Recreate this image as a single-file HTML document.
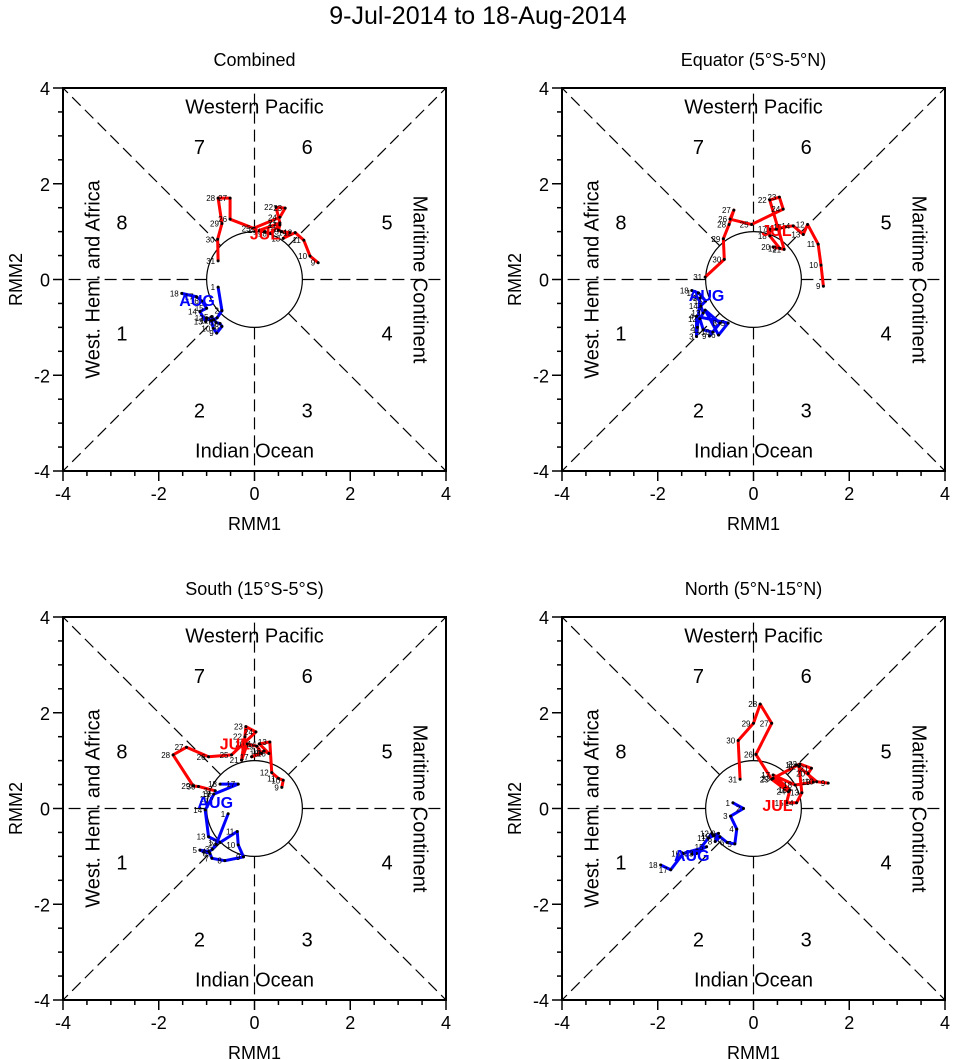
<!DOCTYPE html>
<html><head><meta charset="utf-8"><style>
body{margin:0;background:#fff;width:956px;height:1060px;overflow:hidden}
svg{display:block;font-family:"Liberation Sans",sans-serif}
</style></head><body>
<svg id="c" width="956" height="1060" xmlns="http://www.w3.org/2000/svg">
<text x="478" y="24" text-anchor="middle" font-size="25">9-Jul-2014 to 18-Aug-2014</text>
</svg>
<script>
const julDays=[9,10,11,12,13,14,15,16,17,18,19,20,21,22,23,24,25,26,27,28,29,30,31];
const augDays=[1,2,3,4,5,6,7,8,9,10,11,12,13,14,15,16,17,18];
const tickVals=[-4,-2,0,2,4];
const panelTitles=["Combined","Equator (5°S-5°N)","South (15°S-5°S)","North (5°N-15°N)"];
const p1JulX=[1.33,1.16,1.03,0.85,0.60,0.74,0.57,0.50,0.53,0.32,0.22,0.11,0.53,0.45,0.64,0.53,-0.02,-0.51,-0.51,-0.76,-0.68,-0.77,-0.76];
const p1JulY=[0.35,0.49,0.82,0.98,0.86,0.98,1.00,1.03,1.14,0.96,1.00,1.03,1.18,1.51,1.49,1.30,1.07,1.26,1.70,1.70,1.17,0.84,0.39];
const p1AugX=[-0.76,-0.68,-0.78,-0.85,-0.90,-0.80,-0.72,-0.68,-0.79,-0.86,-0.90,-1.00,-1.02,-1.14,-1.00,-1.10,-1.21,-1.52];
const p1AugY=[-0.16,-0.65,-0.80,-0.84,-0.78,-0.90,-0.92,-0.98,-1.12,-1.02,-0.86,-0.80,-0.88,-0.67,-0.60,-0.45,-0.36,-0.29];
const p2JulX=[1.46,1.41,1.35,1.13,1.04,0.83,0.66,0.48,0.34,0.34,0.55,0.41,0.64,0.34,0.54,0.62,-0.04,-0.49,-0.41,-0.51,-0.63,-0.61,-1.01];
const p2JulY=[-0.14,0.30,0.74,1.15,0.94,1.12,1.10,1.05,1.05,0.91,0.65,0.68,0.63,1.66,1.72,1.47,1.15,1.26,1.45,1.15,0.85,0.42,0.05];
const p2AugX=[-1.12,-1.17,-1.19,-1.19,-0.53,-0.73,-1.01,-0.70,-0.92,-0.85,-1.05,-1.12,-1.05,-1.10,-1.00,-1.08,-1.15,-1.29];
const p2AugY=[-0.39,-1.00,-1.19,-0.77,-0.91,-1.16,-0.64,-0.91,-1.18,-1.10,-1.05,-0.82,-0.70,-0.55,-0.45,-0.35,-0.28,-0.23];
const p3JulX=[0.57,0.60,0.50,0.36,0.32,0.10,0.30,0.20,-0.06,0.15,0.05,-0.15,-0.27,-0.20,-0.18,0.03,-0.48,-0.96,-1.42,-1.70,-1.28,-1.17,-0.82];
const p3JulY=[0.44,0.59,0.63,0.75,1.39,1.35,1.15,1.20,1.08,1.15,1.30,1.35,1.01,1.50,1.71,1.60,1.12,1.08,1.28,1.12,0.47,0.46,0.37];
const p3AugX=[-0.55,-0.80,-0.88,-0.95,-1.14,-0.93,-0.89,-0.62,-0.23,-0.34,-0.36,-0.72,-0.96,-1.03,-0.90,-0.85,-0.34,-0.72];
const p3AugY=[-0.11,-0.75,-0.85,-0.90,-0.87,-0.94,-1.04,-1.09,-1.01,-0.76,-0.48,-0.71,-0.59,-0.03,0.20,0.30,0.51,0.51];
const p4JulX=[1.56,1.32,0.90,0.95,1.01,0.90,0.69,0.76,0.41,0.87,1.25,1.14,1.21,0.97,0.41,0.73,0.38,0.05,0.38,0.14,0.00,-0.32,-0.28];
const p4JulY=[0.53,0.56,0.91,0.88,0.33,0.12,0.12,0.39,0.70,0.49,0.55,0.73,0.84,0.93,0.63,0.35,0.61,1.13,1.78,2.18,1.78,1.42,0.61];
const p4AugX=[-0.43,-0.21,-0.48,-0.35,-0.39,-0.55,-0.70,-0.80,-0.73,-0.84,-0.94,-0.87,-1.19,-1.29,-0.98,-1.47,-1.73,-1.94];
const p4AugY=[0.12,0.00,-0.16,-0.43,-0.74,-0.71,-0.59,-0.69,-0.52,-0.57,-0.62,-0.52,-0.94,-0.95,-0.80,-0.94,-1.28,-1.18];
const julLabelXY=[[0.22,0.96],[0.48,1.03],[-0.41,1.36],[0.5,0.07]];
const augLabelXY=[[-1.2,-0.43],[-0.98,-0.32],[-0.82,0.14],[-1.29,-0.97]];

const NS="http://www.w3.org/2000/svg";
const svg=document.getElementById('c');
function mk(tag,attrs,parent,txt){const e=document.createElementNS(NS,tag);for(const k in attrs)e.setAttribute(k,attrs[k]);if(txt!==undefined)e.textContent=txt;(parent||svg).appendChild(e);return e;}
const panels=[
 {l:63,t:88,jx:p1JulX,jy:p1JulY,ax:p1AugX,ay:p1AugY},
 {l:562,t:88,jx:p2JulX,jy:p2JulY,ax:p2AugX,ay:p2AugY},
 {l:63,t:617,jx:p3JulX,jy:p3JulY,ax:p3AugX,ay:p3AugY},
 {l:562,t:617,jx:p4JulX,jy:p4JulY,ax:p4AugX,ay:p4AugY}];
const W=383;
panels.forEach((p,i)=>{
 const sx=v=>p.l+(v+4)/8*W, sy=v=>p.t+(4-v)/8*W;
 const g=mk('g',{});
 
 
 const ttl=mk('text',{x:p.l+W/2,y:p.t-22,'text-anchor':'middle','font-size':18},g,panelTitles[i]);
 
 
 const cx=sx(0),cy=sy(0),r=W/8;
 const dirs=[[1,0],[-1,0],[0,1],[0,-1],[1,1],[1,-1],[-1,1],[-1,-1]];
 dirs.forEach(d=>{const n=Math.hypot(d[0],d[1]);
  const ln=mk('line',{x1:cx+d[0]/n*r,y1:cy-d[1]/n*r,x2:sx(4*d[0]),y2:sy(4*d[1]),stroke:'#000','stroke-width':1.2,'stroke-dasharray':'12,6'},g);
  
  });
 const cir=mk('circle',{cx:cx,cy:cy,r:r,fill:'none',stroke:'#000','stroke-width':1.2},g);
 
 
 const box=mk('rect',{x:p.l,y:p.t,width:W,height:W,fill:'none',stroke:'#000','stroke-width':2},g);
 
 
 for(let v=-4;v<=4.001;v+=0.5){const maj=Math.abs(v%2)<0.01;const L=maj?10:5;
  const t1=mk('line',{x1:sx(v),y1:p.t+W,x2:sx(v),y2:p.t+W+L,stroke:'#000','stroke-width':1.5},g);
  
  
  const t2=mk('line',{x1:p.l,y1:sy(v),x2:p.l-L,y2:sy(v),stroke:'#000','stroke-width':1.5},g);
  
  }
 tickVals.forEach(v=>{
  const a=mk('text',{x:sx(v),y:p.t+W+29,'text-anchor':'middle','font-size':18},g,String(v));
  
  
  const b=mk('text',{x:p.l-13,y:sy(v)+7,'text-anchor':'end','font-size':18},g,String(v));
  
  });
 const xt=mk('text',{x:p.l+W/2,y:p.t+W+59,'text-anchor':'middle','font-size':18},g,'RMM1');
 
 
 const yt=mk('text',{x:0,y:0,'text-anchor':'middle','font-size':18,transform:`translate(${p.l-41},${cy}) rotate(-90)`},g,'RMM2');
 
 
 const regs=[['Western Pacific',cx,p.t+20,0],['Indian Ocean',cx,p.t+364,0],['West. Hem. and Africa',p.l+31,cy,-90],['Maritime Continent',p.l+W-27,cy,90]];
 regs.forEach(rg=>{const t=mk('text',{x:0,y:0,'text-anchor':'middle','dominant-baseline':'middle','font-size':20,transform:`translate(${rg[1]},${rg[2]}) rotate(${rg[3]})`},g,rg[0]);
  
  });
 const ph=[['7',-1.15,2.73],['6',1.1,2.73],['8',-2.77,1.15],['5',2.77,1.15],['1',-2.77,-1.16],['4',2.77,-1.16],['2',-1.15,-2.77],['3',1.1,-2.77]];
 ph.forEach(q=>{const t=mk('text',{x:sx(q[1]),y:sy(q[2]),'text-anchor':'middle','dominant-baseline':'middle','font-size':20},g,q[0]);
  
  });
 function series(xs,ys,days,color,nm){
  const pl=mk('polyline',{points:xs.map((x,k)=>sx(x)+','+sy(ys[k])).join(' '),fill:'none',stroke:color,'stroke-width':3,'stroke-linejoin':'round'},g);
  
  
  xs.forEach((x,k)=>{
   const d=mk('circle',{cx:sx(x),cy:sy(ys[k]),r:1.5,fill:'#000'},g);
   
   
   const t=mk('text',{x:sx(x)-3,y:sy(ys[k])+3,'text-anchor':'end','font-size':8},g,String(days[k]));
   
   });
 }
 series(p.jx,p.jy,julDays,'#ff0000','july');
 series(p.ax,p.ay,augDays,'#0000ff','august');
 const jl=mk('text',{x:sx(julLabelXY[i][0]),y:sy(julLabelXY[i][1])+6,'text-anchor':'middle','font-size':16,'font-weight':'bold',fill:'#ff0000'},g,'JUL');
 
 
 const al=mk('text',{x:sx(augLabelXY[i][0]),y:sy(augLabelXY[i][1])+6,'text-anchor':'middle','font-size':16,'font-weight':'bold',fill:'#0000ff'},g,'AUG');
 
 
});
</script>
</body></html>
